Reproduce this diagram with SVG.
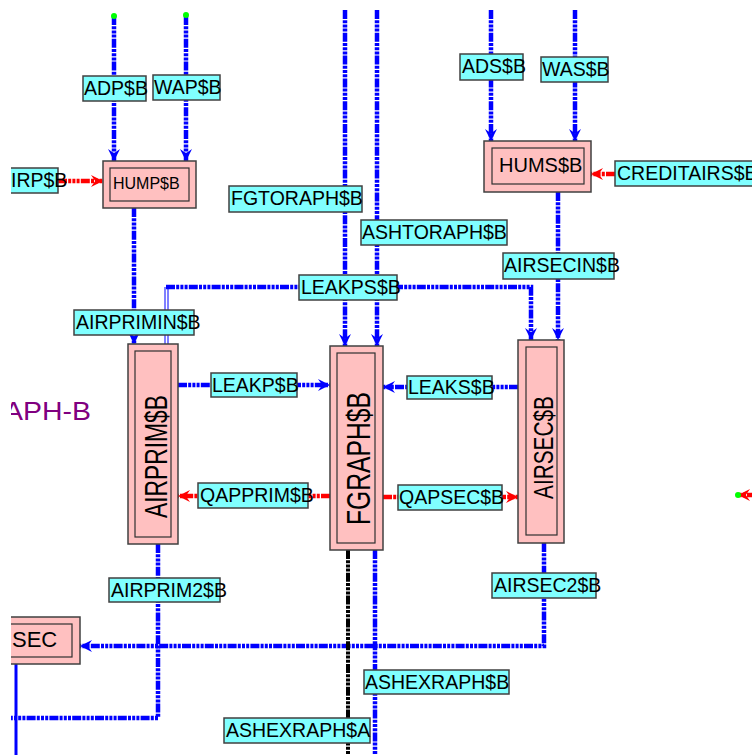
<svg xmlns="http://www.w3.org/2000/svg" width="752" height="755" viewBox="0 0 752 755">
<defs>
<style>
.cb{fill:none;stroke:#0000ff;stroke-width:4.5;stroke-dasharray:9 1.2 3 1.2 3 1.2 3 1.2}
.cr{fill:none;stroke:#ff0000;stroke-width:4.5;stroke-dasharray:9 1.2 3 1.2 3 1.2 3 1.2}
.ck{fill:none;stroke:#000000;stroke-width:4;stroke-dasharray:9 1.2 3 1.2 3 1.2 3 1.2}
.thin{fill:none;stroke:#0000ff;stroke-width:1}
.lab rect{fill:#80ffff;stroke:#404040;stroke-width:1.5}
.lab text{font-family:"Liberation Sans",Arial,sans-serif;font-size:19.5px;fill:#000}
.nd .o{fill:#ffc0c0;stroke:#404040;stroke-width:1.5}
.nd .i{fill:none;stroke:#303030;stroke-width:1.2}
.nd text{font-family:"Liberation Sans",Arial,sans-serif;fill:#000}
.dot{fill:#00ff00}
</style>
<marker id="ab" viewBox="0 0 10 10" refX="10" refY="5" markerWidth="13" markerHeight="12" markerUnits="userSpaceOnUse" orient="auto"><path d="M0,0 L10,5 L0,10 L3.5,5 z" fill="#0000ff"/></marker>
<marker id="ar" viewBox="0 0 10 10" refX="10" refY="5" markerWidth="13" markerHeight="12" markerUnits="userSpaceOnUse" orient="auto"><path d="M0,0 L10,5 L0,10 L3.5,5 z" fill="#ff0000"/></marker>
<clipPath id="cp"><rect x="11" y="10" width="741" height="745"/></clipPath>
</defs>
<g clip-path="url(#cp)">
<text x="4" y="420" font-family="Liberation Sans,Arial,sans-serif" font-size="26" fill="#800080" textLength="87" lengthAdjust="spacingAndGlyphs">APH-B</text>
<g id="connectors">
<path class="cb" d="M114,16 V161" marker-end="url(#ab)"/>
<path class="cb" d="M186,16 V161" marker-end="url(#ab)"/>
<path class="cr" d="M58,181 H103" marker-end="url(#ar)"/>
<path class="cb" d="M134,208 V344" marker-end="url(#ab)"/>
<path class="cb" d="M491,10 V141" marker-end="url(#ab)"/>
<path class="cb" d="M575,10 V141" marker-end="url(#ab)"/>
<path class="cr" d="M615,174 H591" marker-end="url(#ar)"/>
<path class="cb" d="M558,192 V340" marker-end="url(#ab)"/>
<path class="cb" d="M345,10 V346" marker-end="url(#ab)"/>
<path class="cb" d="M377,10 V346" marker-end="url(#ab)"/>
<path class="cb" d="M166,287 H531 V340" marker-end="url(#ab)"/>
<path class="thin" d="M165,287 V344 M168,289 V344"/>
<path class="cb" d="M178,385 H330" marker-end="url(#ab)"/>
<path class="cr" d="M330,496 H178" marker-end="url(#ar)"/>
<path class="cb" d="M518,387 H383" marker-end="url(#ab)"/>
<path class="cr" d="M383,497 H518" marker-end="url(#ar)"/>
<path class="cr" d="M756,495 H738" marker-end="url(#ar)"/>
<path class="cb" d="M158,544 V718 H0"/>
<path class="cb" d="M544,543 V646 H80" marker-end="url(#ab)"/>
<path class="ck" d="M348,550 V755"/>
<path class="cb" d="M375,550 V755"/>
<path d="M16,664 V755" stroke="#0000ff" stroke-width="3" fill="none"/>
<circle class="dot" cx="114" cy="16" r="3"/>
<circle class="dot" cx="186" cy="15" r="3"/>
<circle class="dot" cx="738" cy="495" r="3"/>
</g>
<g id="HUMP" class="nd"><rect class="o" x="103" y="161" width="93" height="47"/><rect class="i" x="110" y="168" width="79" height="33"/><text x="113" y="189" font-size="16">HUMP$B</text></g>
<g id="HUMS" class="nd"><rect class="o" x="484" y="141" width="107" height="51"/><rect class="i" x="492" y="148" width="92" height="36"/><text x="499" y="172" font-size="20">HUMS$B</text></g>
<g id="AIRPRIM" class="nd"><rect class="o" x="128" y="344" width="50" height="200"/><rect class="i" x="135" y="351" width="36" height="186"/><text transform="translate(167,518) rotate(-90)" font-size="32" textLength="123" lengthAdjust="spacingAndGlyphs">AIRPRIM$B</text></g>
<g id="FGRAPH" class="nd"><rect class="o" x="330" y="346" width="53" height="204"/><rect class="i" x="337" y="353" width="38" height="190"/><text transform="translate(370,525) rotate(-90)" font-size="34" textLength="133" lengthAdjust="spacingAndGlyphs">FGRAPH$B</text></g>
<g id="AIRSEC" class="nd"><rect class="o" x="518" y="340" width="46" height="203"/><rect class="i" x="526" y="347" width="31" height="188"/><text transform="translate(553,499) rotate(-90)" font-size="28" textLength="103" lengthAdjust="spacingAndGlyphs">AIRSEC$B</text></g>
<g id="SEC" class="nd"><rect class="o" x="-20" y="617" width="100" height="47"/><rect class="i" x="-20" y="624" width="92" height="33"/><text x="12" y="647" font-size="22">SEC</text></g>
<g id="lADP" class="lab"><rect x="83" y="76" width="63" height="25"/><text x="84" y="95">ADP$B</text></g>
<g id="lWAP" class="lab"><rect x="153" y="75" width="67" height="25"/><text x="154" y="94">WAP$B</text></g>
<g id="lIRP" class="lab"><rect x="-10" y="168" width="68" height="25"/><text x="11" y="187">IRP$B</text></g>
<g id="lFGTORAPH" class="lab"><rect x="229" y="186" width="133" height="26"/><text x="231" y="205">FGTORAPH$B</text></g>
<g id="lASHTORAPH" class="lab"><rect x="361" y="220" width="146" height="25"/><text x="362" y="239">ASHTORAPH$B</text></g>
<g id="lLEAKPS" class="lab"><rect x="299" y="275" width="98" height="25"/><text x="301" y="294">LEAKPS$B</text></g>
<g id="lAIRPRIMIN" class="lab"><rect x="74" y="310" width="120" height="25"/><text x="76" y="329">AIRPRIMIN$B</text></g>
<g id="lAIRSECIN" class="lab"><rect x="503" y="253" width="111" height="26"/><text x="504" y="272">AIRSECIN$B</text></g>
<g id="lADS" class="lab"><rect x="460" y="54" width="63" height="26"/><text x="462" y="73">ADS$B</text></g>
<g id="lWAS" class="lab"><rect x="541" y="57" width="67" height="25"/><text x="542" y="76">WAS$B</text></g>
<g id="lCREDITAIRS" class="lab"><rect x="615" y="161" width="145" height="25"/><text x="617" y="180">CREDITAIRS$B</text></g>
<g id="lLEAKP" class="lab"><rect x="211" y="373" width="86" height="24"/><text x="212" y="392">LEAKP$B</text></g>
<g id="lQAPPRIM" class="lab"><rect x="198" y="483" width="110" height="25"/><text x="200" y="502">QAPPRIM$B</text></g>
<g id="lLEAKS" class="lab"><rect x="407" y="376" width="85" height="23"/><text x="408" y="394">LEAKS$B</text></g>
<g id="lQAPSEC" class="lab"><rect x="398" y="485" width="104" height="25"/><text x="399" y="504">QAPSEC$B</text></g>
<g id="lAIRPRIM2" class="lab"><rect x="109" y="578" width="111" height="24"/><text x="111" y="597">AIRPRIM2$B</text></g>
<g id="lAIRSEC2" class="lab"><rect x="492" y="573" width="104" height="25"/><text x="494" y="592">AIRSEC2$B</text></g>
<g id="lASHEXRAPHB" class="lab"><rect x="364" y="670" width="145" height="24"/><text x="365" y="689">ASHEXRAPH$B</text></g>
<g id="lASHEXRAPHA" class="lab"><rect x="224" y="718" width="146" height="25"/><text x="226" y="737">ASHEXRAPH$A</text></g>
</g>
</svg>
